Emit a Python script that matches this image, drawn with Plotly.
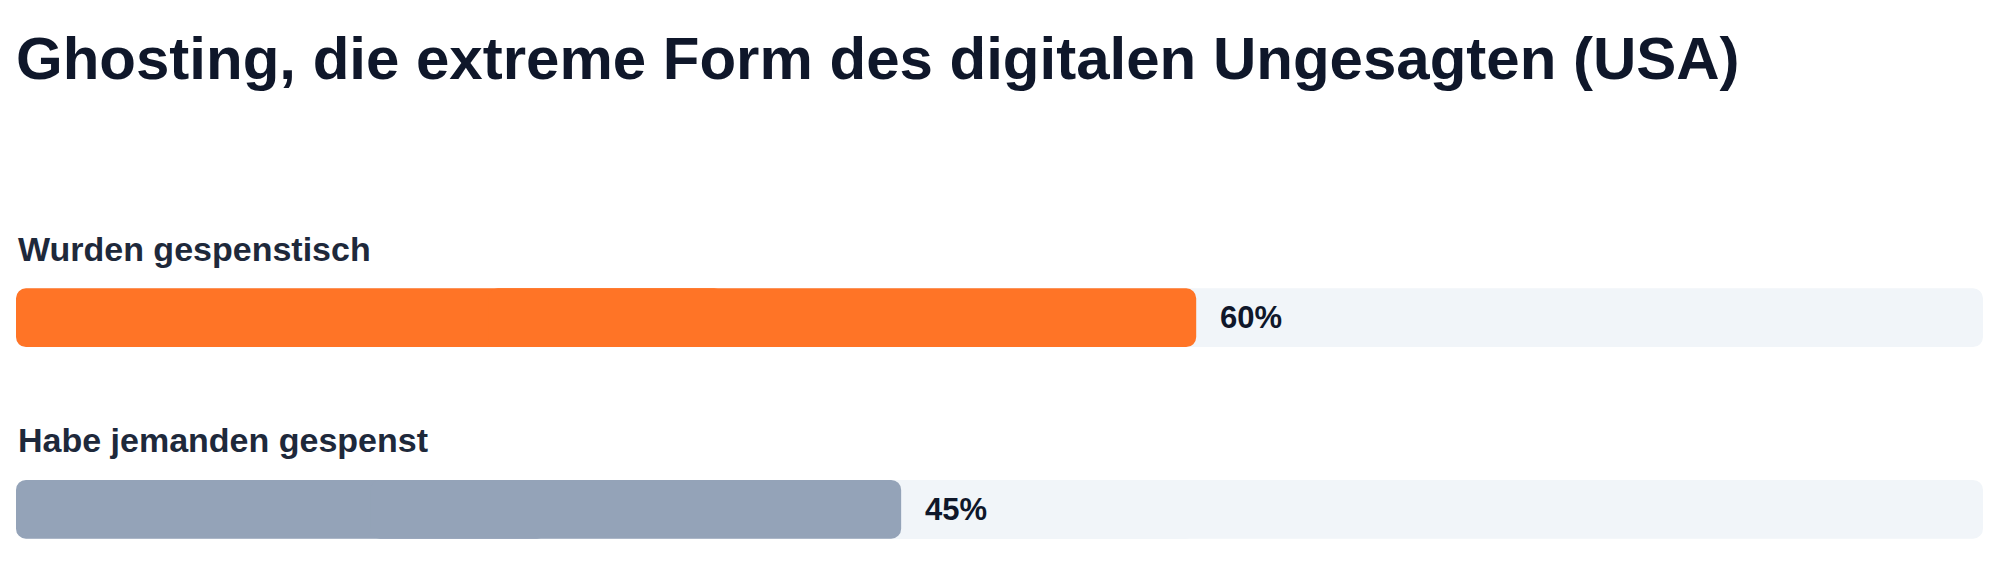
import plotly.graph_objects as go

title = "Ghosting, die extreme Form des digitalen Ungesagten (USA)"
categories = ["Wurden gespenstisch", "Habe jemanden gespenst"]
values = [60, 45]
value_labels = ["60%", "45%"]
bar_colors = ["#ff7426", "#94a3b8"]
track_max = 100

TRACK = "#f1f5f9"
rows = list(range(len(categories)))
BW = 0.307
R = 10

fig = go.Figure()

def rounded_bar(row, total, color):
    # left half drawn backwards (rounded at 0), right half forwards (rounded at end)
    a = total * 0.6
    b = total * 0.4
    fig.add_trace(go.Bar(orientation="h", y=[row], x=[-a], base=[a], width=BW,
                         marker=dict(color=color, cornerradius=R, line=dict(width=0)),
                         hoverinfo="skip", showlegend=False))
    fig.add_trace(go.Bar(orientation="h", y=[row], x=[total - b], base=[b], width=BW,
                         marker=dict(color=color, cornerradius=R, line=dict(width=0)),
                         hoverinfo="skip", showlegend=False))

for r in rows:
    rounded_bar(r, track_max, TRACK)
for r, v, c in zip(rows, values, bar_colors):
    rounded_bar(r, v, c)

annotations = []
for r, cat, v, lab in zip(rows, categories, values, value_labels):
    annotations.append(dict(x=0, xref="paper", xanchor="left", y=r, yref="y",
                            yanchor="bottom", yshift=48, text=cat, showarrow=False,
                            font=dict(family="Liberation Sans, Arial, sans-serif", size=34,
                                      color="#1e293b", weight="bold")))
    annotations.append(dict(x=v, xref="x", xanchor="left", xshift=22, y=r, yref="y",
                            yanchor="middle", text=lab, showarrow=False,
                            font=dict(family="Liberation Sans, Arial, sans-serif", size=31,
                                      color="#0f172a", weight="bold")))

fig.update_layout(
    width=2000, height=588,
    paper_bgcolor="white", plot_bgcolor="white",
    margin=dict(l=16, r=17, t=241, b=2),
    barmode="overlay",
    title=dict(text=title, x=16 / 2000, xanchor="left", xref="container",
               y=1 - 37 / 588, yanchor="top", yref="container",
               font=dict(family="Liberation Sans, Arial, sans-serif", size=60,
                         color="#0f172a", weight="bold")),
    xaxis=dict(range=[0, track_max], visible=False, fixedrange=True),
    yaxis=dict(range=[1.4, -0.4], visible=False, fixedrange=True),
    annotations=annotations,
    showlegend=False,
)

fig.write_html("out.html")
